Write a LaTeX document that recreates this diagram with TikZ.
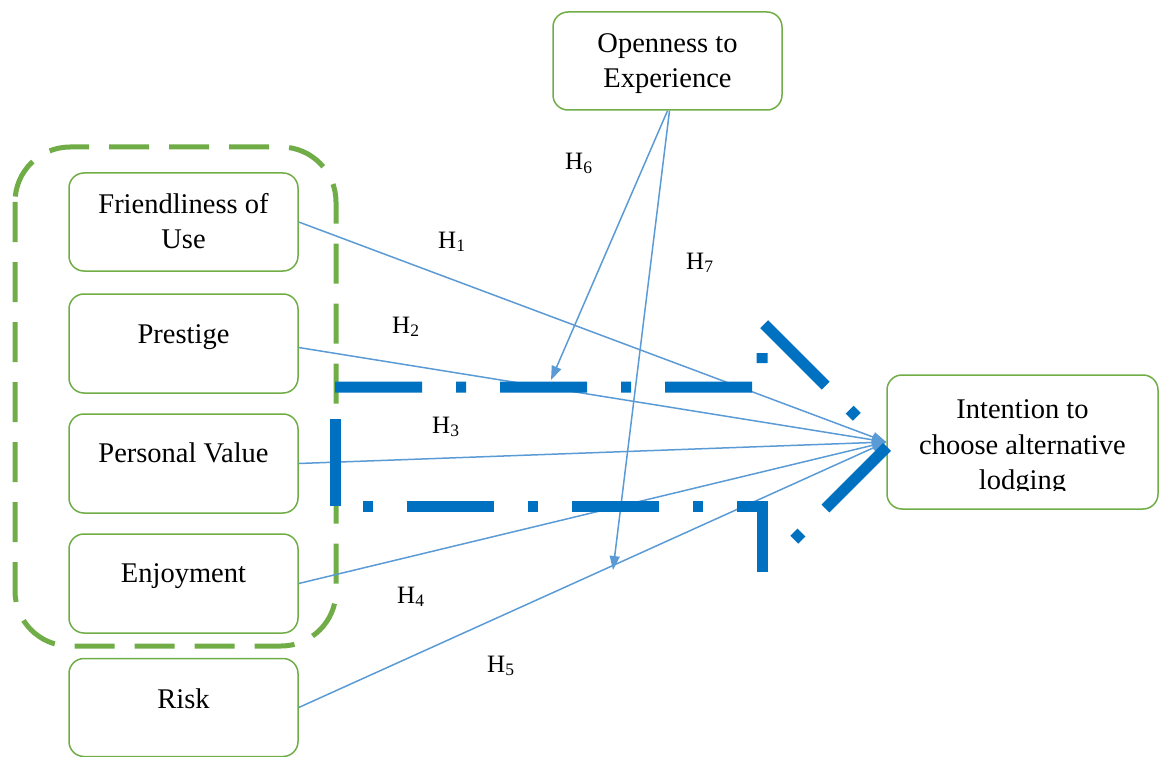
\documentclass[tikz,border=0pt]{standalone}
\usepackage{fontspec}
\setmainfont{Liberation Serif}
\usetikzlibrary{arrows.meta}
\definecolor{grn}{HTML}{70AD47}
\definecolor{thinblue}{HTML}{5B9BD5}
\definecolor{bigblue}{HTML}{0070C0}
\begin{document}
\begin{tikzpicture}[x=1pt,y=-1pt,
  box/.style={draw=grn,line width=1.5pt,rounded corners=15pt,minimum width=229pt,minimum height=98pt,inner sep=0pt},
  txt/.style={font=\fontsize{28.5}{35.5}\selectfont,align=center,inner sep=0pt,text=black},
  hyp/.style={font=\fontsize{25}{30}\selectfont,anchor=base west,inner sep=0pt,text=black},
  conn/.style={draw=thinblue,line width=1.5pt,-{Triangle[length=14pt,width=10pt]}},
  bigarrow/.style={draw=bigblue,line width=11pt},
  group/.style={draw=grn,line width=5pt,dash pattern=on 40pt off 20pt,rounded corners=55pt}
]
\useasboundingbox (0,0) rectangle (1160,757);

% dashed group
\draw[group] (15,147) rectangle (336,646);

% boxes
\node[box] (fu) at (183.5,222) {};
\node[txt] (fut) at (183.5,221.3) {Friendliness of\\Use};
\node[box,minimum height=99pt] (pr) at (183.5,343.5) {};
\node[txt,anchor=base] (prt) at (183.5,343) {Prestige};
\node[box,minimum height=99pt] (pv) at (183.5,463.5) {};
\node[txt,anchor=base] (pvt) at (183.5,462) {Personal Value};
\node[box,minimum height=99pt] (en) at (183.5,583.5) {};
\node[txt,anchor=base] (ent) at (183.5,582) {Enjoyment};
\node[box] (ri) at (183.5,707.5) {};
\node[txt,anchor=base] (rit) at (183.5,708) {Risk};
\node[box] (op) at (667.5,61) {};
\node[txt] (opt) at (667.5,63.8) {Openness to\\Experience};
\node[box,minimum width=271pt,minimum height=134pt] (int) at (1022.5,442) {};
\begin{scope}
  \clip (880,380) rectangle (1160,490);
  \node[txt] (intt) at (1022.5,448) {Intention to\\choose alternative\\lodging};
\end{scope}

% connectors
\coordinate (h6end) at (551,380);
\coordinate (h7end) at (613,570);
\draw[conn] (fu.east) -- (int.west);
\draw[conn] ([yshift=-4pt]pr.east) -- (int.west);
\draw[conn] (pv.east) -- (int.west);
\draw[conn] (en.east) -- (int.west);
\draw[conn] (ri.east) -- (int.west);
\draw[conn] (op.south) -- (h6end);
\draw[conn] ([xshift=2pt]op.south) -- (h7end);

% big dash-dot block arrow
\coordinate (A) at (335,387);
\coordinate (B) at (762,387);
\coordinate (C) at (762,322);
\coordinate (D) at (887,447);
\coordinate (E) at (762,572);
\coordinate (F) at (762,506);
\coordinate (G) at (335,506);
\draw[bigarrow,dash pattern=on 87pt off 34pt on 10pt off 34pt on 87pt off 34pt on 10pt off 34pt on 87pt off 34pt on 10pt off 34pt on 87pt off 34pt on 10pt off 50pt] (A) -- (B) -- (C) -- (D);
\draw[bigarrow,dash pattern=on 87pt off 34pt on 10pt off 100pt] (D) -- (E);
\draw[bigarrow,dash pattern=on 91pt off 34pt on 10pt off 34pt on 87pt off 34pt on 10pt off 34pt on 87pt off 34pt on 10pt off 34pt on 87pt off 34pt] (E) -- (F) -- (G);
\draw[bigarrow,dash pattern=on 87pt off 200pt] (G) -- (A);

% hypothesis labels
\node[hyp] (h1) at (438,248) {H\textsubscript{1}};
\node[hyp] (h2) at (392,333) {H\textsubscript{2}};
\node[hyp] (h3) at (432,433) {H\textsubscript{3}};
\node[hyp] (h4) at (397,603) {H\textsubscript{4}};
\node[hyp] (h5) at (487,672) {H\textsubscript{5}};
\node[hyp] (h6) at (565,170) {H\textsubscript{6}};
\node[hyp] (h7) at (686,269) {H\textsubscript{7}};
\end{tikzpicture}
\end{document}
